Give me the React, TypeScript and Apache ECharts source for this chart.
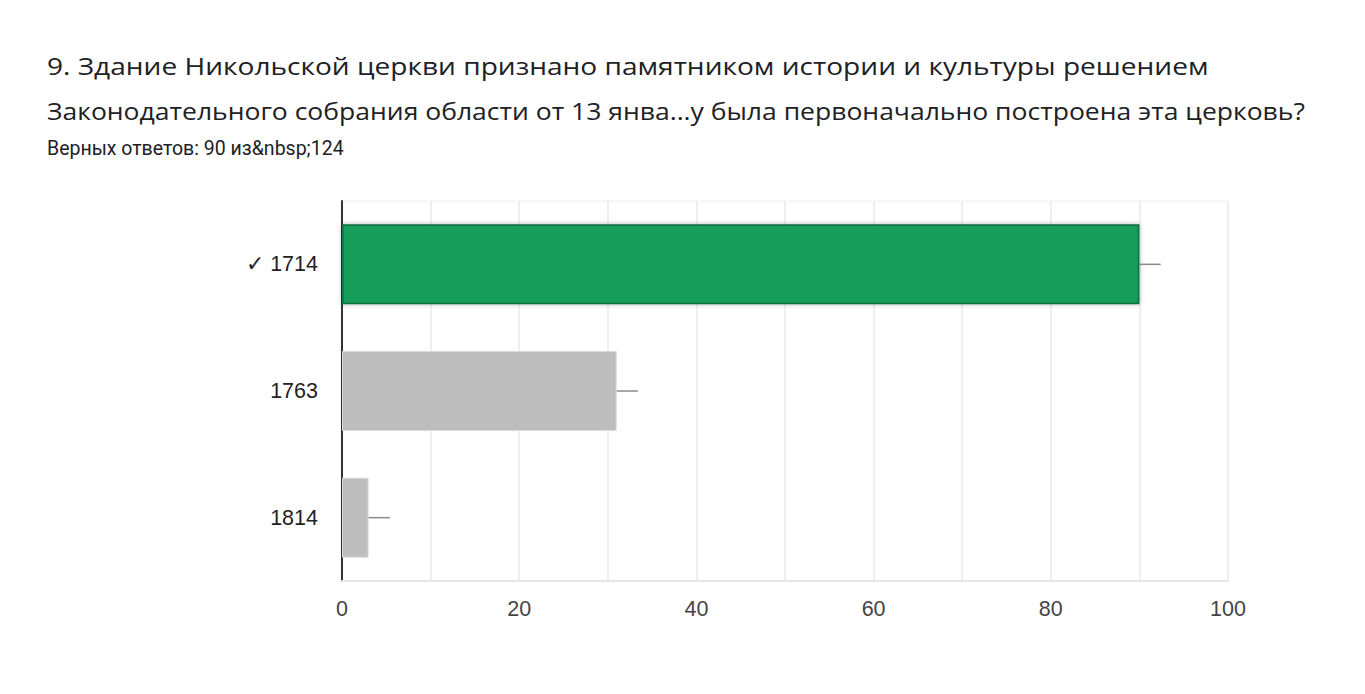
import React, { useEffect, useRef } from "react";
import * as echarts from "echarts";

const titleLine1 = "9. Здание Никольской церкви признано памятником истории и культуры решением";
const titleLine2 = "Законодательного собрания области от 13 янва...у была первоначально построена эта церковь?";
const subtitle = "Верных ответов: 90 из&nbsp;124";

const categories = ["✓ 1714", "1763", "1814"];
const values = [90, 31, 3];
const correct = [true, false, false];
const errorExtent = [2.4, 2.4, 2.4];
const xTicks = [0, 20, 40, 60, 80, 100];

export default function App() {
  const ref = useRef<HTMLDivElement>(null);
  useEffect(() => {
    const chart = echarts.init(ref.current!, null, { renderer: "svg" });
    const font = "Roboto, 'Noto Sans', sans-serif";
    const tFont = "'Open Sans', Roboto, sans-serif";
    const axFont = "Arial, 'Liberation Sans', sans-serif";
    chart.setOption({
      animation: false,
      backgroundColor: "#ffffff",
      graphic: [
        { type: "text", x: 47, y: 66, scaleX: 1.17, style: { text: titleLine1, fontSize: 24, fontFamily: tFont, fill: "#202124", verticalAlign: "middle" } },
        { type: "text", x: 47, y: 111, scaleX: 1.105, style: { text: titleLine2, fontSize: 24, fontFamily: tFont, fill: "#202124", verticalAlign: "middle" } },
        { type: "text", x: 47, y: 148, style: { text: subtitle, fontSize: 19.5, fontFamily: font, fill: "#202124", verticalAlign: "middle" } },
      ],
      grid: { left: 342, right: 137, top: 201, bottom: 113, show: true, borderColor: "#eeeeee", borderWidth: 1 },
      xAxis: {
        type: "value",
        min: 0,
        max: 100,
        interval: 10,
        axisLine: { show: true, onZero: false, lineStyle: { color: "#e6e6e6", width: 2 } },
        axisTick: { show: false },
        splitLine: { show: true, lineStyle: { color: "#efefef", width: 2 } },
        axisLabel: {
          color: "#444444",
          fontSize: 21.5,
          fontFamily: axFont,
          margin: 17,
          formatter: (v: number) => (xTicks.includes(v) ? String(v) : ""),
        },
      },
      yAxis: {
        type: "category",
        inverse: true,
        data: categories,
        axisLine: { show: true, lineStyle: { color: "#333333", width: 2 } },
        axisTick: { show: false },
        axisLabel: { color: "#222222", fontSize: 21.5, fontFamily: axFont, margin: 24 },
      },
      series: [
        {
          type: "bar",
          barWidth: 80,
          data: values.map((v, i) => ({
            value: v,
            itemStyle: correct[i]
              ? { color: "#129d5a", borderColor: "#0b6e3f", borderWidth: 1.5, shadowColor: "rgba(0,0,0,0.3)", shadowBlur: 5 }
              : { color: "#bdbdbd", borderColor: "#d9d9d9", borderWidth: 1 },
          })),
          z: 2,
        },
        {
          type: "custom",
          data: values.map((v, i) => [v, i, errorExtent[i]]),
          renderItem: (params: any, api: any) => {
            const v = api.value(0);
            const idx = api.value(1);
            const e = api.value(2);
            const p0 = api.coord([v, idx]);
            const p1 = api.coord([v + e, idx]);
            return {
              type: "line",
              shape: { x1: p0[0], y1: p0[1], x2: p1[0], y2: p1[1] },
              style: { stroke: "#8a8a8a", lineWidth: 1.5 },
            };
          },
          z: 3,
        },
      ],
    });
    return () => chart.dispose();
  }, []);
  return <div ref={ref} style={{ width: 1365, height: 694, position: "absolute", left: 0, top: 0 }} />;
}
